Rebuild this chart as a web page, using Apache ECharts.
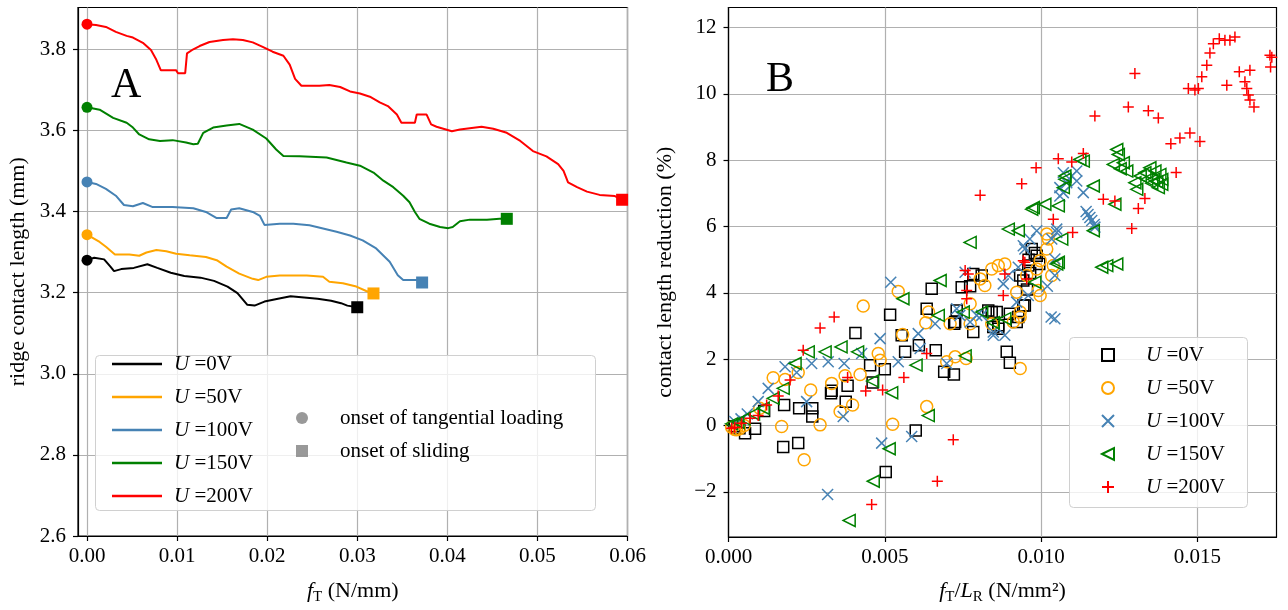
<!DOCTYPE html>
<html><head><meta charset="utf-8">
<script src="https://cdn.jsdelivr.net/npm/echarts@6/dist/echarts.min.js"></script>
<style>html,body{margin:0;padding:0;background:#fff}#c{width:1288px;height:610px}</style>
</head><body><div id="c"></div>
<script>
// ---------- categories / labels ----------
const voltages = ['0V', '50V', '100V', '150V', '200V'];
const colors = ['#000000', '#ffa500', '#4682b4', '#008000', '#ff0000'];
const legendMarkers = ['onset of tangential loading', 'onset of sliding'];

// ---------- tick values ----------
const xTicksA = [0, 0.01, 0.02, 0.03, 0.04, 0.05, 0.06];
const yTicksA = [2.6, 2.8, 3.0, 3.2, 3.4, 3.6, 3.8];
const xTicksB = [0, 0.005, 0.010, 0.015];
const yTicksB = [-2, 0, 2, 4, 6, 8, 10, 12];

// ---------- panel A: ridge contact length vs f_T ----------
const a0 = [[0,3.28],[0.0008,3.286],[0.0019,3.282],[0.0026,3.264],[0.003,3.253],[0.0038,3.258],[0.0052,3.261],[0.0067,3.27],[0.0078,3.261],[0.0093,3.249],[0.0108,3.241],[0.0126,3.237],[0.0141,3.229],[0.0156,3.215],[0.0167,3.199],[0.0178,3.17],[0.0186,3.168],[0.0197,3.178],[0.0212,3.185],[0.0226,3.191],[0.0241,3.188],[0.0256,3.185],[0.0271,3.18],[0.0282,3.174],[0.0289,3.168],[0.03,3.164]];
const a1 = [[0,3.343],[0.0014,3.325],[0.0021,3.313],[0.0031,3.294],[0.0047,3.294],[0.0058,3.291],[0.0066,3.299],[0.0077,3.305],[0.0088,3.302],[0.0099,3.296],[0.0114,3.292],[0.0132,3.288],[0.0144,3.28],[0.0155,3.264],[0.0169,3.247],[0.0184,3.234],[0.019,3.231],[0.0199,3.239],[0.0214,3.242],[0.0244,3.242],[0.0262,3.239],[0.0269,3.227],[0.0284,3.223],[0.0299,3.215],[0.031,3.204],[0.0318,3.198]];
const a2 = [[0,3.473],[0.001,3.468],[0.0021,3.456],[0.0032,3.439],[0.0041,3.416],[0.0051,3.413],[0.0062,3.421],[0.0073,3.411],[0.0095,3.411],[0.0118,3.408],[0.0132,3.399],[0.0144,3.384],[0.0155,3.384],[0.016,3.405],[0.0169,3.408],[0.0184,3.399],[0.0192,3.389],[0.0197,3.367],[0.0214,3.37],[0.0229,3.37],[0.0247,3.366],[0.0262,3.358],[0.0277,3.35],[0.0292,3.341],[0.0306,3.329],[0.0321,3.309],[0.0336,3.276],[0.0345,3.243],[0.0351,3.231],[0.0358,3.231],[0.0366,3.231],[0.0372,3.225]];
const a3 = [[0,3.657],[0.0014,3.651],[0.0029,3.631],[0.0044,3.619],[0.0051,3.607],[0.0058,3.59],[0.0069,3.578],[0.0081,3.574],[0.0095,3.576],[0.011,3.57],[0.0118,3.566],[0.0123,3.567],[0.0129,3.594],[0.014,3.607],[0.0155,3.612],[0.0169,3.616],[0.0184,3.602],[0.0199,3.58],[0.021,3.553],[0.0218,3.537],[0.0236,3.536],[0.0266,3.533],[0.0288,3.521],[0.0303,3.513],[0.0318,3.496],[0.0329,3.476],[0.034,3.46],[0.0351,3.439],[0.0358,3.423],[0.0364,3.399],[0.0369,3.382],[0.038,3.37],[0.0392,3.362],[0.0401,3.359],[0.0406,3.362],[0.0414,3.376],[0.0425,3.38],[0.0444,3.38],[0.0458,3.382],[0.0466,3.382]];
const a4 = [[0,3.862],[0.001,3.86],[0.0021,3.855],[0.0032,3.843],[0.0044,3.833],[0.0051,3.829],[0.0062,3.816],[0.0071,3.798],[0.0077,3.774],[0.0082,3.748],[0.0099,3.748],[0.0101,3.741],[0.0109,3.741],[0.0111,3.79],[0.0118,3.8],[0.0125,3.808],[0.0136,3.818],[0.0151,3.823],[0.0162,3.825],[0.0173,3.823],[0.0184,3.817],[0.0195,3.806],[0.0206,3.794],[0.0218,3.784],[0.0225,3.762],[0.0231,3.727],[0.0238,3.71],[0.0258,3.71],[0.0269,3.712],[0.0281,3.707],[0.0292,3.696],[0.0303,3.691],[0.0314,3.683],[0.0325,3.669],[0.0334,3.66],[0.0344,3.639],[0.0349,3.619],[0.0364,3.619],[0.0366,3.639],[0.0377,3.639],[0.0382,3.615],[0.0388,3.609],[0.0405,3.598],[0.0414,3.602],[0.0438,3.609],[0.0451,3.604],[0.0466,3.594],[0.0481,3.574],[0.0495,3.549],[0.051,3.536],[0.0523,3.517],[0.0529,3.5],[0.0534,3.472],[0.0544,3.46],[0.0555,3.449],[0.0569,3.441],[0.0586,3.438],[0.0594,3.429]];
const linesA = [a0, a1, a2, a3, a4];

// ---------- panel B: contact length reduction vs f_T/L_R ----------
const b0 = [[0.0002,-0.02],[0.00035,-0.08],[0.00053,-0.23],[0.00085,-0.1],[0.00114,0.44],[0.00178,0.62],[0.00175,-0.65],[0.00223,-0.53],[0.00226,0.52],[0.00268,0.52],[0.00268,0.27],[0.00328,0.97],[0.0033,1.05],[0.00381,1.2],[0.00375,0.72],[0.00406,2.79],[0.00453,1.82],[0.00461,1.3],[0.005,1.7],[0.00503,-1.4],[0.00517,3.34],[0.00554,2.72],[0.00565,2.22],[0.00609,2.42],[0.00599,-0.15],[0.00663,2.27],[0.00634,3.52],[0.0069,1.62],[0.00721,1.54],[0.00722,3.07],[0.00783,2.82],[0.0073,3.47],[0.00831,3.47],[0.00847,2.97],[0.0065,4.12],[0.00746,4.17],[0.00773,4.2],[0.00783,4.57],[0.0081,4.52],[0.00725,3.12],[0.00858,3.42],[0.00863,3.02],[0.009,3.37],[0.00927,3.27],[0.00943,3.62],[0.00943,4.37],[0.00959,4.82],[0.0097,5.32],[0.00994,4.87],[0.00986,5.12],[0.00933,4.52],[0.00922,3.12],[0.0089,2.22],[0.009,1.89],[0.00948,3.62],[0.00863,2.92],[0.00842,3.42],[0.00955,4.1],[0.0096,5.0],[0.0098,5.2],[0.00965,4.6]];
const b1 = [[0.0001,-0.05],[0.0002,-0.12],[0.00035,-0.1],[0.0005,0.0],[0.00026,-0.13],[0.001,0.52],[0.0017,-0.03],[0.00143,1.44],[0.00181,1.39],[0.00223,1.6],[0.00242,-1.03],[0.00263,1.07],[0.00293,0.02],[0.0033,1.27],[0.00357,0.42],[0.00373,1.5],[0.00397,0.62],[0.00421,1.54],[0.00431,3.6],[0.00479,2.17],[0.00485,1.97],[0.00525,0.04],[0.00557,2.74],[0.00634,0.57],[0.00631,3.1],[0.0064,3.42],[0.00698,1.92],[0.00709,3.07],[0.00725,2.07],[0.0076,2.02],[0.00773,3.67],[0.00773,3.07],[0.00842,3.07],[0.00543,4.04],[0.0082,4.22],[0.00842,4.72],[0.00863,4.82],[0.00884,4.87],[0.00805,4.42],[0.00922,4.02],[0.00933,3.27],[0.00954,4.52],[0.00986,4.72],[0.00997,4.97],[0.01018,5.32],[0.01023,5.62],[0.01018,5.77],[0.01039,4.82],[0.01034,4.52],[0.00991,4.07],[0.00997,3.92],[0.00911,3.12],[0.00933,1.72],[0.00933,3.42]];
const b2 = [[0.0002,0.12],[0.0004,0.2],[0.0006,0.35],[0.00095,0.72],[0.00127,1.12],[0.00181,1.77],[0.00218,1.6],[0.00266,1.87],[0.0025,0.72],[0.00319,1.92],[0.00317,-2.08],[0.00367,0.27],[0.0037,1.87],[0.00426,2.17],[0.00485,2.62],[0.0049,-0.53],[0.00543,1.92],[0.00586,-0.33],[0.00607,2.77],[0.00613,2.32],[0.00698,1.87],[0.00661,3.07],[0.0073,3.52],[0.00773,3.12],[0.0081,3.32],[0.00847,2.82],[0.00519,4.32],[0.00757,4.62],[0.00879,4.27],[0.00895,4.52],[0.00927,4.77],[0.00943,5.42],[0.00986,5.87],[0.0105,5.92],[0.01044,4.52],[0.01044,3.22],[0.00922,3.72],[0.00959,3.92],[0.0074,3.32],[0.00794,3.32],[0.0106,7.17],[0.01082,7.32],[0.01098,7.52],[0.01114,7.67],[0.01071,7.02],[0.01071,7.62],[0.01114,7.37],[0.01135,7.02],[0.0106,6.92],[0.01144,6.45],[0.0115,6.36],[0.01156,6.27],[0.01162,6.18],[0.0117,6.06],[0.01172,5.98],[0.0105,5.82],[0.01034,5.62],[0.00964,5.62],[0.00948,5.32],[0.01044,5.02],[0.00847,2.72],[0.00884,2.72],[0.01032,3.27],[0.0102,4.2]];
const b3 = [[0.0001,0.05],[0.0003,0.1],[0.0005,0.2],[0.0008,0.35],[0.00111,0.52],[0.00143,0.82],[0.00175,1.12],[0.00213,1.87],[0.00255,2.22],[0.00309,2.22],[0.0036,2.37],[0.00413,2.22],[0.00386,-2.86],[0.00461,1.34],[0.00463,-1.68],[0.00522,0.99],[0.00514,-0.7],[0.006,1.82],[0.00639,0.3],[0.00671,3.32],[0.00751,3.42],[0.00757,2.1],[0.0081,3.42],[0.00558,3.82],[0.00677,4.37],[0.00773,5.52],[0.00895,5.92],[0.00927,5.87],[0.0097,6.52],[0.01012,6.67],[0.01055,6.62],[0.01066,5.62],[0.01055,4.92],[0.0098,4.32],[0.00884,3.22],[0.01076,7.52],[0.01124,8.02],[0.01076,7.42],[0.01167,7.22],[0.01071,7.17],[0.00975,6.57],[0.01167,5.87],[0.01242,8.32],[0.01247,8.17],[0.01231,7.87],[0.01236,6.67],[0.0121,4.82],[0.01194,4.77],[0.01242,4.87],[0.0105,4.87],[0.01263,7.92],[0.01253,7.74],[0.01274,7.67],[0.013,7.32],[0.01306,7.12],[0.01317,7.52],[0.01332,7.62],[0.01348,7.77],[0.01364,7.67],[0.0138,7.57],[0.01386,7.42],[0.01386,7.27],[0.01375,7.17],[0.01359,7.42],[0.01338,7.42],[0.01354,7.3],[0.0137,7.35],[0.01135,7.97],[0.00847,3.1]];
const b4 = [[0.0001,-0.08],[0.0002,-0.05],[0.00042,0.07],[0.00069,0.22],[0.00095,0.3],[0.00122,0.62],[0.00159,0.89],[0.00197,1.37],[0.00239,2.27],[0.00293,2.94],[0.00338,3.27],[0.00381,1.45],[0.00439,1.04],[0.00458,-2.38],[0.00493,1.07],[0.00561,1.45],[0.00634,2.17],[0.00668,-1.68],[0.00719,-0.43],[0.00762,3.82],[0.00757,4.67],[0.00762,4.07],[0.00805,6.94],[0.00938,7.29],[0.00984,7.77],[0.01055,8.04],[0.01098,7.94],[0.01039,6.22],[0.01101,5.82],[0.00884,4.57],[0.00948,4.92],[0.00954,4.42],[0.00879,3.92],[0.01135,8.2],[0.01172,9.33],[0.013,10.61],[0.01279,9.6],[0.01343,9.49],[0.01375,9.27],[0.01415,8.49],[0.01444,8.67],[0.01476,8.82],[0.01508,8.56],[0.01432,7.63],[0.01199,6.82],[0.01236,6.77],[0.01332,6.84],[0.01311,6.54],[0.0129,5.94],[0.01471,10.16],[0.01492,10.11],[0.01503,10.16],[0.01514,10.51],[0.0153,10.86],[0.0154,11.23],[0.01551,11.51],[0.0157,11.66],[0.01588,11.61],[0.01604,11.61],[0.0162,11.71],[0.01594,10.26],[0.01634,10.66],[0.01668,10.71],[0.01652,10.36],[0.01658,10.16],[0.01663,9.96],[0.01668,9.81],[0.01681,9.6],[0.01732,11.16],[0.01738,11.1],[0.01734,10.81],[0.00767,4.57],[0.00943,4.97]];
const pointsB = [b0, b1, b2, b3, b4];

// ---------- styling ----------
const FONT = '"Liberation Serif", "DejaVu Serif", serif';
const GRID_COLOR = '#b0b0b0';
const symbolsB = ['rect', 'circle', 'path://M0,0L10,10M10,0L0,10', 'path://M0,5L10,0L10,10Z', 'path://M5,0L5,10M0,5L10,5'];
const symbolSizesB = [11, 12, 11, 12, 11];

const nameA = v => 'A|' + v;
const nameB = v => 'B|' + v;
const legendFmt = n => '{i|U} =' + n.split('|')[1];
const richText = {
  i: { fontStyle: 'italic', fontFamily: FONT, fontSize: 21, color: '#000', lineHeight: 22 }
};

function valueAxis(gridIndex, min, max, ticks, fmt, isX) {
  return {
    type: 'value', gridIndex, min, max,
    axisLine: { show: true, onZero: false, lineStyle: { color: '#000', width: 1.2 } },
    axisTick: { show: true, customValues: ticks, length: 5, lineStyle: { color: '#000', width: 1.2 } },
    axisLabel: { show: true, customValues: ticks, formatter: fmt, fontFamily: FONT, fontSize: 21, color: '#000', margin: isX ? 10 : 12 },
    splitLine: { show: true, lineStyle: { color: GRID_COLOR, width: 1.2 } }
  };
}

const minusFmt = v => (v < 0 ? '\u2212' + Math.abs(v) : String(v));

const series = [];
linesA.forEach((d, i) => {
  series.push({
    name: nameA(voltages[i]), type: 'line', xAxisIndex: 0, yAxisIndex: 0,
    data: d, symbol: 'none', lineStyle: { color: colors[i], width: 2 }, itemStyle: { color: colors[i] },
    z: 3
  });
});
linesA.forEach((d, i) => {
  series.push({
    name: '_start' + i, type: 'scatter', xAxisIndex: 0, yAxisIndex: 0,
    data: [d[0]], symbol: 'circle', symbolSize: 11, itemStyle: { color: colors[i], opacity: 1 }, z: 4, clip: false
  });
  series.push({
    name: '_end' + i, type: 'scatter', xAxisIndex: 0, yAxisIndex: 0,
    data: [d[d.length - 1]], symbol: 'rect', symbolSize: 12, itemStyle: { color: colors[i], opacity: 1 }, z: 4, clip: false
  });
});
series.push({ name: legendMarkers[0], type: 'scatter', xAxisIndex: 0, yAxisIndex: 0, data: [], symbol: 'circle', itemStyle: { color: '#808080' } });
series.push({ name: legendMarkers[1], type: 'scatter', xAxisIndex: 0, yAxisIndex: 0, data: [], symbol: 'rect', itemStyle: { color: '#808080' } });

pointsB.forEach((d, i) => {
  series.push({
    name: nameB(voltages[i]), type: 'scatter', xAxisIndex: 1, yAxisIndex: 1,
    data: d, symbol: symbolsB[i], symbolSize: symbolSizesB[i],
    itemStyle: { color: 'rgba(0,0,0,0)', borderColor: colors[i], borderWidth: 1.5, opacity: 1 },
    z: 3 + i
  });
});

const option = {
  animation: false,
  backgroundColor: '#ffffff',
  title: [
    { text: 'A', left: 111, top: 65, padding: 0, textStyle: { fontFamily: FONT, fontSize: 42, fontWeight: 'normal', color: '#000' } },
    { text: 'B', left: 766, top: 59, padding: 0, textStyle: { fontFamily: FONT, fontSize: 42, fontWeight: 'normal', color: '#000' } }
  ],
  grid: [
    { left: 78, top: 7.5, width: 549.5, height: 532.5, show: true, borderColor: '#000', borderWidth: 1.2, backgroundColor: 'transparent' },
    { left: 728.5, top: 7.5, width: 548, height: 532, show: true, borderColor: '#000', borderWidth: 1.2, backgroundColor: 'transparent' }
  ],
  xAxis: [
    Object.assign(valueAxis(0, -0.001, 0.06, xTicksA, v => v.toFixed(2), true), {
      name: '{i|f}{s|T} (N/mm)', nameLocation: 'middle', nameGap: 41,
      nameTextStyle: { fontFamily: FONT, fontSize: 22, color: '#000', lineHeight: 28,
        rich: { i: { fontStyle: 'italic', fontFamily: FONT, fontSize: 22, lineHeight: 28 }, s: { fontFamily: FONT, fontSize: 15, verticalAlign: 'bottom', lineHeight: 15 } } }
    }),
    Object.assign(valueAxis(1, 0, 0.01753, xTicksB, v => v.toFixed(3), true), {
      name: '{i|f}{s|T}/{i|L}{s|R} (N/mm\u00b2)', nameLocation: 'middle', nameGap: 40,
      nameTextStyle: { fontFamily: FONT, fontSize: 22, color: '#000', lineHeight: 28,
        rich: { i: { fontStyle: 'italic', fontFamily: FONT, fontSize: 22, lineHeight: 28 }, s: { fontFamily: FONT, fontSize: 15, verticalAlign: 'bottom', lineHeight: 15 } } }
    })
  ],
  yAxis: [
    Object.assign(valueAxis(0, 2.6, 3.903, yTicksA, v => v.toFixed(1), false), {
      name: 'ridge contact length (mm)', nameLocation: 'middle', nameGap: 49,
      nameTextStyle: { fontFamily: FONT, fontSize: 22, color: '#000' }
    }),
    Object.assign(valueAxis(1, -3.36, 12.6, yTicksB, minusFmt, false), {
      name: 'contact length reduction (%)', nameLocation: 'middle', nameGap: 52,
      nameTextStyle: { fontFamily: FONT, fontSize: 22, color: '#000' }
    })
  ],
  graphic: [
    { type: 'rect', z: 50, shape: { x: 95.5, y: 355.5, width: 500, height: 155, r: 4 }, style: { fill: 'rgba(255,255,255,0.8)', stroke: '#d0d0d0', lineWidth: 1 } },
    { type: 'rect', z: 50, shape: { x: 1069.5, y: 337.5, width: 178, height: 170, r: 4 }, style: { fill: 'rgba(255,255,255,0.8)', stroke: '#d0d0d0', lineWidth: 1 } }
  ],
  legend: [
    {
      data: voltages.map(v => ({ name: nameA(v), icon: 'rect' })), left: 107, top: 348, orient: 'vertical', z: 60,
      itemWidth: 50, itemHeight: 2.5, itemGap: 11, formatter: legendFmt, selectedMode: false,
      textStyle: { fontFamily: FONT, fontSize: 21, color: '#000', lineHeight: 22, padding: [0, 0, 0, 7], rich: richText }
    },
    {
      data: legendMarkers, left: 291, top: 402, orient: 'vertical', z: 60,
      itemWidth: 12, itemHeight: 12, itemGap: 11, selectedMode: false,
      textStyle: { fontFamily: FONT, fontSize: 21, color: '#000', lineHeight: 22, padding: [0, 0, 0, 27] }
    },
    {
      data: voltages.map(nameB), left: 1096, top: 339, orient: 'vertical', z: 60,
      itemWidth: 12, itemHeight: 12, itemGap: 11, formatter: legendFmt, selectedMode: false,
      textStyle: { fontFamily: FONT, fontSize: 21, color: '#000', lineHeight: 22, padding: [0, 0, 0, 27], rich: richText }
    }
  ],
  series
};

const chart = echarts.init(document.getElementById('c'), null, { renderer: 'canvas' });
chart.setOption(option);
</script>
</body></html>
